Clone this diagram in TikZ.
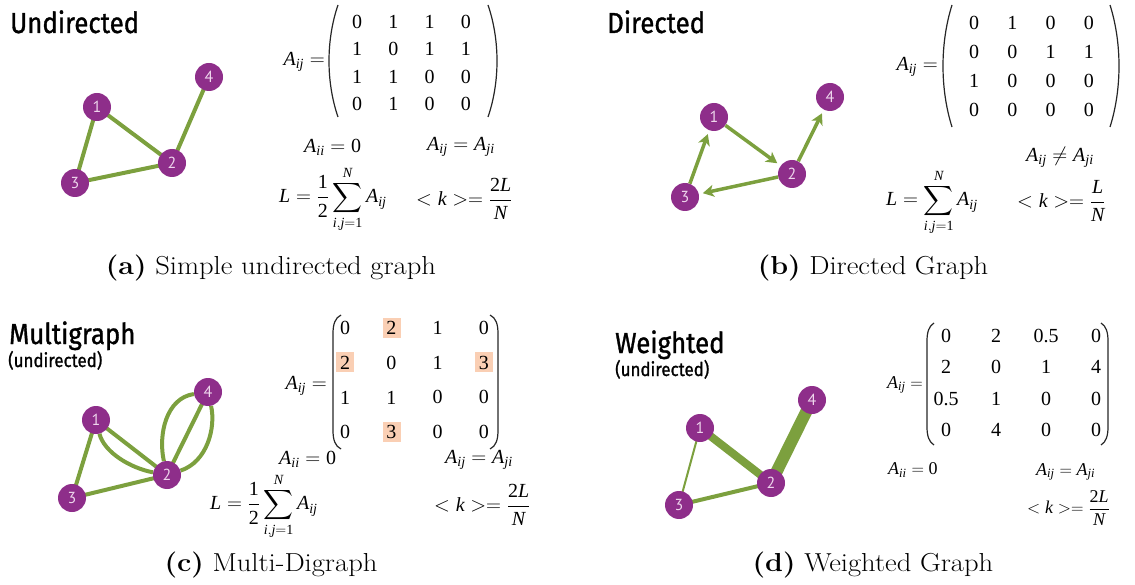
\documentclass[tikz,border=0pt]{standalone}
\usepackage{amsmath}
\usepackage{exscale}
\usepackage{graphicx}
\usepackage{fontspec}
\usetikzlibrary{arrows.meta,backgrounds}
\newfontfamily\titlef[FakeBold=1.2]{Fira Sans}
\newfontfamily\numf{PT Sans}
\newfontfamily\tms{Liberation Serif}
\newcommand\mi[1]{\text{\tms\itshape #1}}
\newcommand\mr[1]{\text{\tms #1}}
\newcommand\capwide[1]{\scalebox{1.1}[1]{#1}}
\newcommand\ttlnarrow[1]{\scalebox{0.89}[1]{#1}}
\definecolor{gnode}{RGB}{142,46,138}
\definecolor{gedge}{RGB}{124,160,62}
\definecolor{glabel}{RGB}{238,214,236}
\definecolor{hl}{RGB}{250,207,180}
\tikzset{
  gv/.style={circle, fill=gnode, minimum size=28pt, inner sep=0pt, text=glabel, font=\numf\fontsize{16}{16}\selectfont},
  edg/.style={draw=gedge, line width=4pt, shorten <=-4pt, shorten >=-4pt},
  arr/.style={draw=gedge, line width=3.5pt, -{Stealth[length=11pt,width=12pt,inset=3pt]}, shorten >=4pt},
  ttl/.style={font=\titlef\fontsize{29}{33}\selectfont, anchor=base west, inner sep=0pt},
  subttl/.style={font=\titlef\fontsize{19}{21}\selectfont, anchor=base west, inner sep=0pt},
  ent/.style={font=\tms\fontsize{20}{24}\selectfont, inner sep=0pt},
  fm/.style={font=\fontsize{20}{24}\selectfont, inner sep=0pt},
  fms/.style={font=\fontsize{18}{22}\selectfont, inner sep=0pt},
  captxt/.style={font=\fontsize{26}{30}\selectfont, inner sep=0pt},
  paren/.style={line width=1.2pt, draw=black!85},
  hlbox/.style={fill=hl, minimum width=18pt, minimum height=20pt, inner sep=0pt},
}
\begin{document}
\begin{tikzpicture}[x=1pt,y=-1pt]
\useasboundingbox (0,0) rectangle (1135,585);

% ---------------- (a) Undirected ----------------
\node[ttl] (ta) at (10,33) {\ttlnarrow{Undirected}};
\node[gv] (a1) at (97,107) {1};
\node[gv] (a2) at (172,163) {2};
\node[gv] (a3) at (75,183) {3};
\node[gv] (a4) at (209,77) {4};
\begin{scope}[on background layer]
  \draw[edg] (a1) -- (a2);
  \draw[edg] (a1) -- (a3);
  \draw[edg] (a3) -- (a2);
  \draw[edg] (a2) -- (a4);
\end{scope}
\node[fm, anchor=east] (aeq) at (325,62) {$\mi{A}_{\mi{ij}}=$};
\draw[paren] (338,5) .. controls (326,40) and (326,82) .. (338,117);
\draw[paren] (488,5) .. controls (500,40) and (500,82) .. (488,117);
\foreach \v [count=\i from 0] in {0,1,1,0, 1,0,1,1, 1,1,0,0, 0,1,0,0}{
  \pgfmathtruncatemacro\r{int(\i/4)}
  \pgfmathtruncatemacro\c{mod(\i,4)}
  \node[ent] (ma\r\c) at ({357+\c*36.3},{22+\r*27.3}) {\v};
}
\node[fm, anchor=west] (aii) at (304,147) {$\mi{A}_{\mi{ii}}=\mr{0}$};
\node[fm, anchor=west] (asym) at (427,147) {$\mi{A}_{\mi{ij}}=\mi{A}_{\mi{ji}}$};
\node[fm, anchor=west] (aL) at (279,199) {$\mi{L}=\dfrac{\mr{1}}{\mr{2}}\displaystyle\sum_{\mi{i},\mi{j}=\mr{1}}^{\mi{N}}\mi{A}_{\mi{ij}}$};
\node[fm, anchor=west] (ak) at (416,199) {$<\mi{k}>=\dfrac{\mr{2}\mi{L}}{\mi{N}}$};
\node[captxt] (capa) at (271,268) {\capwide{\textbf{(a)} Simple undirected graph}};

% ---------------- (b) Directed ----------------
\node[ttl] (tb) at (607,33) {\ttlnarrow{Directed}};
\node[gv] (b1) at (714,117) {1};
\node[gv] (b2) at (792,174) {2};
\node[gv] (b3) at (685,197) {3};
\node[gv] (b4) at (830,97) {4};
\draw[arr] (b3) -- (b1);
\draw[arr] (b1) -- (b2);
\draw[arr] (b2) -- (b3);
\draw[arr] (b2) -- (b4);
\node[fm, anchor=east] (beq) at (938,67) {$\mi{A}_{\mi{ij}}=$};
\draw[paren] (952,5) .. controls (940,43) and (940,89) .. (952,127);
\draw[paren] (1110,5) .. controls (1122,43) and (1122,89) .. (1110,127);
\foreach \v [count=\i from 0] in {0,1,0,0, 0,0,1,1, 1,0,0,0, 0,0,0,0}{
  \pgfmathtruncatemacro\r{int(\i/4)}
  \pgfmathtruncatemacro\c{mod(\i,4)}
  \node[ent] (mb\r\c) at ({974+\c*38.3},{23+\r*29}) {\v};
}
\node[fm, anchor=west] (bneq) at (1026,157) {$\mi{A}_{\mi{ij}}\neq\mi{A}_{\mi{ji}}$};
\node[fm, anchor=west] (bL) at (886,202) {$\mi{L}=\displaystyle\sum_{\mi{i},\mi{j}=\mr{1}}^{\mi{N}}\mi{A}_{\mi{ij}}$};
\node[fm, anchor=west] (bk) at (1017,201) {$<\mi{k}>=\dfrac{\mi{L}}{\mi{N}}$};
\node[captxt] (capb) at (873,268) {\capwide{\textbf{(b)} Directed Graph}};

% ---------------- (c) Multigraph ----------------
\node[ttl] (tc) at (9,344) {\ttlnarrow{Multigraph}};
\node[subttl] (tc2) at (8,367) {\ttlnarrow{(undirected)}};
\node[gv] (c1) at (96,420) {1};
\node[gv] (c2) at (167,475) {2};
\node[gv] (c3) at (72,498) {3};
\node[gv] (c4) at (208,392) {4};
\begin{scope}[on background layer]
  \draw[edg] (c1) -- (c2);
  \draw[edg] (c1) -- (c3);
  \draw[edg] (c3) -- (c2);
  \draw[edg] (c2) -- (c4);
  \draw[draw=gedge, line width=4pt] (c1) .. controls (104,452) and (130,468) .. (c2);
  \draw[draw=gedge, line width=4pt] (c2) .. controls (158,435) and (166,398) .. (c4);
  \draw[draw=gedge, line width=4pt] (c2) .. controls (207,462) and (216,428) .. (c4);
\end{scope}
\node[fm, anchor=east] (ceq) at (327,386) {$\mi{A}_{\mi{ij}}=$};
\draw[paren] (341,315) .. controls (335,318) and (333,324) .. (333,334) -- (333,430) .. controls (333,440) and (335,446) .. (341,449);
\draw[paren] (490,315) .. controls (496,318) and (498,324) .. (498,334) -- (498,430) .. controls (498,440) and (496,446) .. (490,449);
\node[hlbox] (h1) at (392,328) {};
\node[hlbox] (h2) at (345,362) {};
\node[hlbox] (h3) at (484,362) {};
\node[hlbox] (h4) at (392,432) {};
\foreach \v [count=\i from 0] in {0,2,1,0, 2,0,1,3, 1,1,0,0, 0,3,0,0}{
  \pgfmathtruncatemacro\r{int(\i/4)}
  \pgfmathtruncatemacro\c{mod(\i,4)}
  \node[ent] (mc\r\c) at ({345+\c*46.3},{328+\r*34.7}) {\v};
}
\node[fm, anchor=west] (cii) at (279,459) {$\mi{A}_{\mi{ii}}=\mr{0}$};
\node[fm, anchor=west] (csym) at (445,460) {$\mi{A}_{\mi{ij}}=\mi{A}_{\mi{ji}}$};
\node[fm, anchor=west] (cL) at (210,506) {$\mi{L}=\dfrac{\mr{1}}{\mr{2}}\displaystyle\sum_{\mi{i},\mi{j}=\mr{1}}^{\mi{N}}\mi{A}_{\mi{ij}}$};
\node[fm, anchor=west] (ck) at (434,505) {$<\mi{k}>=\dfrac{\mr{2}\mi{L}}{\mi{N}}$};
\node[captxt] (capc) at (271,565) {\capwide{\textbf{(c)} Multi-Digraph}};

% ---------------- (d) Weighted ----------------
\node[ttl] (td) at (615,353) {\ttlnarrow{Weighted}};
\node[subttl] (td2) at (615,376) {\ttlnarrow{(undirected)}};
\node[gv] (d1) at (700,428) {1};
\node[gv] (d2) at (771,483) {2};
\node[gv] (d3) at (679,505) {3};
\node[gv] (d4) at (812,400) {4};
\begin{scope}[on background layer]
  \draw[edg, line width=2pt] (d1) -- (d3);
  \draw[edg, line width=4pt] (d3) -- (d2);
  \draw[edg, line width=8pt] (d1) -- (d2);
  \draw[edg, line width=12pt] (d2) -- (d4);
\end{scope}
\node[fms, anchor=east] (deq) at (923,385) {$\mi{A}_{\mi{ij}}=$};
\draw[paren] (934,323) .. controls (929,326) and (927,332) .. (927,341) -- (927,427) .. controls (927,436) and (929,442) .. (934,445);
\draw[paren] (1101,323) .. controls (1106,326) and (1108,332) .. (1108,341) -- (1108,427) .. controls (1108,436) and (1106,442) .. (1101,445);
\foreach \v [count=\i from 0] in {0,2,0.5,0, 2,0,1,4, 0.5,1,0,0, 0,4,0,0}{
  \pgfmathtruncatemacro\r{int(\i/4)}
  \pgfmathtruncatemacro\c{mod(\i,4)}
  \node[ent] (md\r\c) at ({946+\c*50},{336+\r*31.3}) {\v};
}
\node[fms, anchor=west] (dii) at (888,470) {$\mi{A}_{\mi{ii}}=\mr{0}$};
\node[fms, anchor=west] (dsym) at (1036,472) {$\mi{A}_{\mi{ij}}=\mi{A}_{\mi{ji}}$};
\node[fms, anchor=west] (dk) at (1027,508) {$<\mi{k}>=\dfrac{\mr{2}\mi{L}}{\mi{N}}$};
\node[captxt] (capd) at (873,565) {\capwide{\textbf{(d)} Weighted Graph}};
\end{tikzpicture}
\end{document}
